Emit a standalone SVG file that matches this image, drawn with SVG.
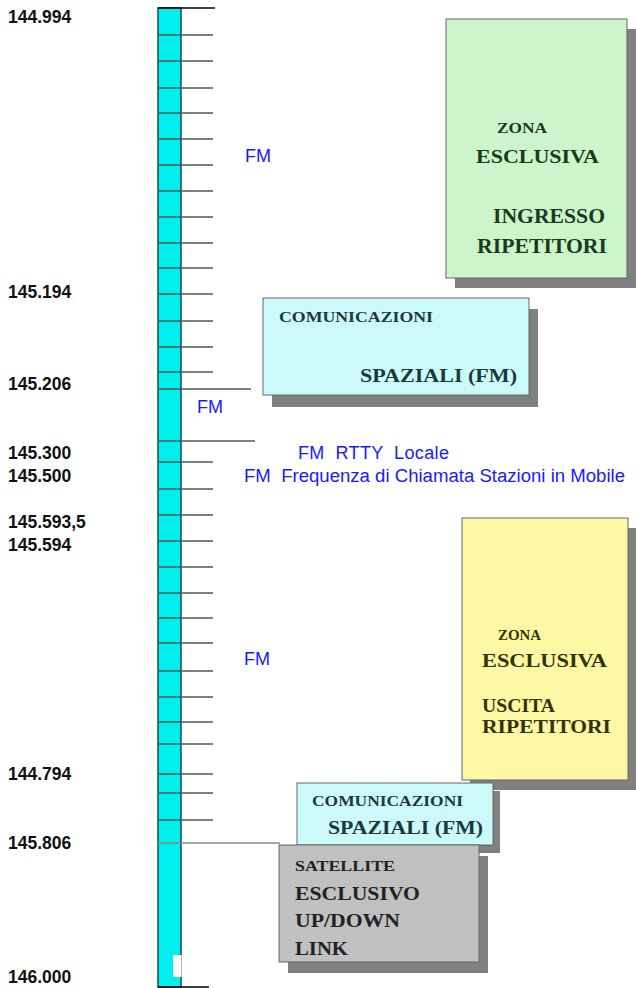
<svg xmlns="http://www.w3.org/2000/svg" width="636" height="988" viewBox="0 0 636 988">
<style>
.lbl{font-family:"Liberation Sans",Arial,sans-serif;font-weight:bold;font-size:17.5px;fill:#111}
.fm{font-family:"Liberation Sans",Arial,sans-serif;font-size:18px;fill:#1a1aff;white-space:pre}
.bx{font-family:"Liberation Serif","Times New Roman",serif;font-weight:bold}
.tick{stroke:#555;stroke-width:1.6}
.shadow{fill:#808080}
.box{stroke:#666;stroke-width:1}
</style>
<rect width="636" height="988" fill="#ffffff"/>
<g id="scale">
<rect x="158" y="8" width="23" height="979" fill="#00f0f0" stroke="#0a5050" stroke-width="1.5"/>
<rect x="173" y="955" width="8.5" height="22" fill="#ffffff"/>
<line x1="158" y1="8" x2="215" y2="8" stroke="#000" stroke-width="1.5"/>
<line x1="158" y1="987" x2="209" y2="987" stroke="#000" stroke-width="1.5"/>
</g>
<g id="connectors">
<g class="tick">
<line x1="158" y1="35" x2="213" y2="35"/>
<line x1="158" y1="61" x2="213" y2="61"/>
<line x1="158" y1="88" x2="213" y2="88"/>
<line x1="158" y1="113" x2="213" y2="113"/>
<line x1="158" y1="139" x2="213" y2="139"/>
<line x1="158" y1="165" x2="213" y2="165"/>
<line x1="158" y1="191" x2="213" y2="191"/>
<line x1="158" y1="217" x2="213" y2="217"/>
<line x1="158" y1="243" x2="213" y2="243"/>
<line x1="158" y1="268" x2="213" y2="268"/>
<line x1="158" y1="294" x2="213" y2="294"/>
<line x1="158" y1="321" x2="213" y2="321"/>
<line x1="158" y1="347" x2="213" y2="347"/>
<line x1="158" y1="372" x2="213" y2="372"/>
<line x1="158" y1="389" x2="251" y2="389"/>
<line x1="158" y1="441" x2="255" y2="441"/>
<line x1="158" y1="462" x2="213" y2="462"/>
<line x1="158" y1="489" x2="213" y2="489"/>
<line x1="158" y1="515" x2="213" y2="515"/>
<line x1="158" y1="541" x2="213" y2="541"/>
<line x1="158" y1="567" x2="213" y2="567"/>
<line x1="158" y1="593" x2="213" y2="593"/>
<line x1="158" y1="618" x2="213" y2="618"/>
<line x1="158" y1="643" x2="213" y2="643"/>
<line x1="158" y1="671" x2="213" y2="671"/>
<line x1="158" y1="697" x2="213" y2="697"/>
<line x1="158" y1="722" x2="213" y2="722"/>
<line x1="158" y1="744" x2="213" y2="744"/>
<line x1="158" y1="774" x2="213" y2="774"/>
<line x1="158" y1="793" x2="213" y2="793"/>
<line x1="158" y1="820" x2="213" y2="820"/>
<line x1="158" y1="843" x2="280" y2="843" stroke="#888"/>
</g>
</g>
<g id="labels">
<text class="lbl" x="8" y="23">144.994</text>
<text class="lbl" x="8" y="298">145.194</text>
<text class="lbl" x="8" y="390">145.206</text>
<text class="lbl" x="8" y="459">145.300</text>
<text class="lbl" x="8" y="482">145.500</text>
<text class="lbl" x="8" y="528">145.593,5</text>
<text class="lbl" x="8" y="551">145.594</text>
<text class="lbl" x="8" y="780">144.794</text>
<text class="lbl" x="8" y="849">145.806</text>
<text class="lbl" x="8" y="983">146.000</text>
</g>
<g id="fm-labels">
<text class="fm" x="245" y="162">FM</text>
<text class="fm" x="197" y="413">FM</text>
<text class="fm" x="298" y="459" xml:space="preserve" textLength="151" lengthAdjust="spacing">FM  RTTY  Locale</text>
<text class="fm" x="244" y="482" xml:space="preserve" textLength="381" lengthAdjust="spacingAndGlyphs">FM  Frequenza di Chiamata Stazioni in Mobile</text>
<text class="fm" x="244" y="665">FM</text>
</g>
<g id="ingresso">
<rect class="shadow" x="455" y="29" width="181" height="259"/>
<rect class="box" x="446" y="19" width="181" height="259" fill="#ccf5cc"/>
<g class="bx" fill="#1a3a1a">
<text x="497" y="133" font-size="14" textLength="50" lengthAdjust="spacingAndGlyphs">ZONA</text>
<text x="476" y="163" font-size="19" textLength="123" lengthAdjust="spacingAndGlyphs">ESCLUSIVA</text>
<text x="493" y="223" font-size="20" textLength="112" lengthAdjust="spacingAndGlyphs">INGRESSO</text>
<text x="477" y="253" font-size="20" textLength="130" lengthAdjust="spacingAndGlyphs">RIPETITORI</text>
</g>
</g>
<g id="spaziali1">
<rect class="shadow" x="272" y="309" width="266" height="98"/>
<rect class="box" x="263" y="298" width="266" height="97" fill="#ccfafa"/>
<g class="bx" fill="#1a3a3a">
<text x="279" y="322" font-size="15" textLength="154" lengthAdjust="spacingAndGlyphs">COMUNICAZIONI</text>
<text x="360" y="382" font-size="18" textLength="157" lengthAdjust="spacingAndGlyphs">SPAZIALI (FM)</text>
</g>
</g>
<g id="uscita">
<rect class="shadow" x="470" y="528" width="166" height="262"/>
<rect class="box" x="462" y="518" width="166" height="262" fill="#fcf8a4"/>
<g class="bx" fill="#33330a">
<text x="498" y="640" font-size="14" textLength="43" lengthAdjust="spacingAndGlyphs">ZONA</text>
<text x="482" y="667" font-size="19" textLength="125" lengthAdjust="spacingAndGlyphs">ESCLUSIVA</text>
<text x="482" y="712" font-size="19" textLength="73" lengthAdjust="spacingAndGlyphs">USCITA</text>
<text x="482" y="733" font-size="19" textLength="129" lengthAdjust="spacingAndGlyphs">RIPETITORI</text>
</g>
</g>
<g id="spaziali2">
<rect class="shadow" x="304" y="791" width="196" height="62"/>
<rect class="box" x="297" y="783" width="196" height="62" fill="#ccfafa"/>
<g class="bx" fill="#1a3a3a">
<text x="312" y="806" font-size="15" textLength="151" lengthAdjust="spacingAndGlyphs">COMUNICAZIONI</text>
<text x="328" y="834" font-size="18" textLength="155" lengthAdjust="spacingAndGlyphs">SPAZIALI (FM)</text>
</g>
</g>
<g id="satellite">
<rect class="shadow" x="288" y="856" width="200" height="117"/>
<rect class="box" x="279" y="845" width="200" height="117" fill="#c0c0c0"/>
<g class="bx" fill="#222">
<text x="295" y="871" font-size="15" textLength="100" lengthAdjust="spacingAndGlyphs">SATELLITE</text>
<text x="295" y="900" font-size="19" textLength="125" lengthAdjust="spacingAndGlyphs">ESCLUSIVO</text>
<text x="295" y="927" font-size="19" textLength="105" lengthAdjust="spacingAndGlyphs">UP/DOWN</text>
<text x="295" y="955" font-size="19" textLength="53" lengthAdjust="spacingAndGlyphs">LINK</text>
</g>
</g>
</svg>
